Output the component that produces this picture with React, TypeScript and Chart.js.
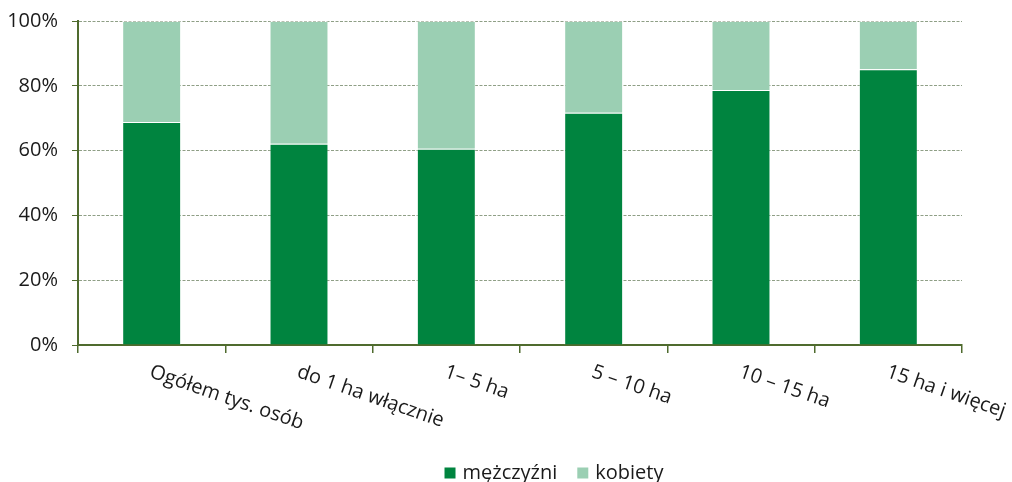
import React, { useEffect, useRef } from "react";
import { Chart, registerables } from "chart.js";

Chart.register(...registerables);

const categories = [
  "Ogółem tys. osób",
  "do 1 ha włącznie",
  "1– 5 ha",
  "5 – 10 ha",
  "10 – 15 ha",
  "15 ha i więcej",
];
const men = [68.8, 62.1, 60.6, 71.7, 78.7, 85.1];
const women = [31.2, 37.9, 39.4, 28.3, 21.3, 14.9];
const seriesNames = ["mężczyźni", "kobiety"];
const yTicks = [0, 20, 40, 60, 80, 100];

const DARK = "#00843F";
const LIGHT = "#9BCFB3";
const AXIS = "#4F6B2E";
const TEXT = "#1a1a1a";
const FONT = "'Open Sans', 'Noto Sans', sans-serif";

const rotatedLabels = {
  id: "rotatedLabels",
  afterDraw(chart: any) {
    const ctx = chart.ctx;
    const xs = chart.scales.x;
    const labels = chart.data.labels as string[];
    ctx.save();
    ctx.fillStyle = TEXT;
    ctx.font = `20px ${FONT}`;
    ctx.textAlign = "left";
    ctx.textBaseline = "top";
    labels.forEach((lab, i) => {
      const x = xs.getPixelForValue(i) + 2;
      const y = xs.top + 17;
      ctx.save();
      ctx.translate(x, y);
      ctx.rotate((19 * Math.PI) / 180);
      ctx.fillText(lab, 0, 0);
      ctx.restore();
    });
    ctx.restore();
  },
};

const customLegend = {
  id: "customLegend",
  afterDraw(chart: any) {
    const ctx = chart.ctx;
    const ds = chart.data.datasets;
    ctx.save();
    ctx.font = `20px ${FONT}`;
    ctx.textBaseline = "middle";
    ctx.textAlign = "left";
    const box = 11;
    const gapText = 7;
    const gapItem = 20;
    const widths = ds.map((d: any) => box + gapText + ctx.measureText(d.label).width);
    const total = widths.reduce((a: number, b: number) => a + b, 0) + gapItem * (ds.length - 1);
    const cx = 554;
    const cy = 473;
    let x = cx - total / 2;
    ds.forEach((d: any, i: number) => {
      ctx.fillStyle = d.backgroundColor;
      ctx.fillRect(x, cy - box / 2, box, box);
      ctx.fillStyle = TEXT;
      ctx.fillText(d.label, x + box + gapText, cy);
      x += widths[i] + gapItem;
    });
    ctx.restore();
  },
};

export default function App() {
  const ref = useRef<HTMLCanvasElement | null>(null);
  useEffect(() => {
    document.body.style.margin = "0";
    if (!ref.current) return;
    const chart = new Chart(ref.current, {
      type: "bar",
      data: {
        labels: categories,
        datasets: [
          {
            label: seriesNames[0],
            data: men,
            backgroundColor: DARK,
            borderColor: "rgba(255,255,255,0.35)",
            borderWidth: 1,
            barPercentage: 0.8,
            categoryPercentage: 0.5,
          },
          {
            label: seriesNames[1],
            data: women,
            backgroundColor: LIGHT,
            borderColor: "rgba(255,255,255,0.35)",
            borderWidth: 1,
            barPercentage: 0.8,
            categoryPercentage: 0.5,
          },
        ],
      },
      options: {
        animation: false,
        responsive: false,
        maintainAspectRatio: false,
        layout: { padding: { top: 21, right: 50, left: 0, bottom: 0 } },
        plugins: {
          tooltip: { enabled: false },
          legend: { display: false },
        },
        scales: {
          x: {
            stacked: true,
            ticks: { display: false },
            grid: {
              offset: true,
              drawOnChartArea: false,
              color: AXIS,
              tickLength: 8,
              lineWidth: 1.5,
            },
            border: { color: AXIS, width: 2 },
            afterFit: (scale: any) => {
              scale.height = 137;
              scale.paddingLeft = 0;
              scale.paddingRight = 0;
            },
          },
          y: {
            stacked: true,
            min: 0,
            max: 100,
            afterBuildTicks: (scale: any) => {
              scale.ticks = yTicks.map((v) => ({ value: v }));
            },
            ticks: {
              color: TEXT,
              padding: 14,
              font: { family: FONT, size: 20 },
              callback: (v: any) => `${v}%`,
            },
            grid: {
              color: "#8f9f86",
              tickColor: AXIS,
              tickLength: 6,
              tickBorderDash: [],
              lineWidth: 1,
            } as any,
            border: { color: AXIS, width: 2, dash: [3, 1.5] } as any,
            afterFit: (scale: any) => {
              scale.width = 78;
              scale.paddingTop = 0;
              scale.paddingBottom = 0;
            },
          },
        },
      },
      plugins: [rotatedLabels, customLegend],
    });
    return () => chart.destroy();
  }, []);
  return (
    <div style={{ width: 1012, height: 482 }}>
      <canvas ref={ref} width={1012} height={482} />
    </div>
  );
}
